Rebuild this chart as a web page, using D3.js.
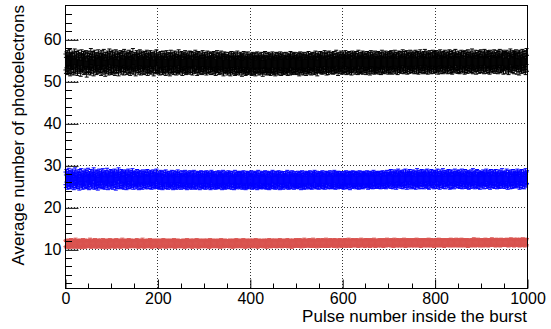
<!DOCTYPE html>
<html>
<head>
<meta charset="utf-8">
<script src="https://cdn.jsdelivr.net/npm/d3@7"></script>
<style>
  body { margin: 0; background: #fff; }
  svg { display: block; }
  text { font-family: "Liberation Sans", Arial, Helvetica, sans-serif; fill: #000; }
</style>
</head>
<body>
<svg id="chart" width="551" height="329"></svg>
<script>
// Average photoelectrons per pulse, three light levels, pulses 1..1000
const blackMeans = [
54.6,53.8,55.1,54.2,53.5,55.4,54.9,53.9,54.4,55.7,53.2,54.8,54.1,55.0,53.6,54.7,55.3,54.0,53.4,54.9,55.8,54.3,53.7,54.6,55.2,
54.1,53.3,54.8,55.5,54.4,53.8,55.0,54.2,53.1,54.7,55.6,54.5,53.9,54.3,55.2,53.5,54.6,54.9,53.7,55.4,54.0,52.9,54.8,55.1,54.2,
53.6,55.3,54.7,54.0,53.4,55.9,54.5,53.8,54.9,55.2,54.1,53.2,54.6,55.5,53.9,54.3,54.8,53.5,55.0,54.4,53.7,55.6,54.2,53.9,54.7,
55.1,54.0,53.3,54.6,55.4,54.8,53.6,54.2,55.7,53.9,54.5,53.1,55.0,54.3,53.8,54.9,55.3,54.1,53.4,54.7,55.8,54.4,53.7,55.2,54.0,
53.5,54.9,55.5,54.2,53.8,54.6,55.1,53.3,54.4,55.6,54.0,53.7,54.8,55.3,54.5,53.2,54.1,55.0,54.7,53.9,55.4,54.3,53.6,54.9,55.2,
54.2,53.4,55.7,54.6,53.9,54.1,55.3,54.8,53.5,54.4,55.0,53.8,54.7,55.5,54.0,53.3,54.9,55.2,54.3,53.7,54.6,55.9,54.1,53.6,54.5,
55.0,54.3,53.2,54.8,55.4,53.9,54.5,55.1,54.0,53.6,54.7,55.6,54.2,53.4,54.9,55.3,53.8,54.4,55.0,54.1,53.5,54.6,55.2,54.8,53.7,
54.3,55.5,54.0,53.3,54.7,55.1,54.5,53.8,54.2,55.4,53.6,54.9,54.1,53.9,55.0,54.4,53.2,54.8,55.3,54.6,53.7,54.0,55.6,54.3,53.9,
54.5,53.7,55.0,54.1,53.4,54.8,55.2,53.9,54.3,54.6,53.5,55.3,54.0,53.8,54.7,55.1,54.2,53.3,54.5,55.4,53.9,54.1,54.8,53.6,55.0,
54.4,53.2,54.7,55.5,54.0,53.7,54.3,55.0,54.6,53.5,54.2,55.3,53.9,54.8,54.1,53.4,55.1,54.5,53.8,54.0,55.6,54.3,53.6,54.9,54.2,
53.9,55.2,54.4,53.3,54.7,54.1,55.0,53.8,54.5,55.4,54.0,53.5,54.8,54.2,53.7,55.1,54.6,53.9,54.3,55.3,53.6,54.0,54.9,55.2,54.1,
53.4,54.6,55.0,54.2,53.8,54.5,55.5,53.9,54.1,54.7,53.3,54.9,55.2,54.0,53.6,54.4,55.1,54.3,53.7,54.8,54.2,53.5,55.4,54.6,53.9,
54.3,55.0,53.8,54.4,54.9,53.4,54.1,55.3,54.6,53.7,54.0,54.8,55.1,53.9,54.2,53.5,54.7,55.0,54.3,53.6,54.5,55.2,53.8,54.1,54.6,
53.3,54.9,54.2,55.4,53.9,54.0,54.7,53.5,55.0,54.4,53.8,54.1,55.3,54.6,53.6,54.3,54.8,53.2,54.5,55.1,54.0,53.7,54.9,54.2,53.9,
54.5,53.4,54.1,55.0,53.7,54.3,54.8,53.2,54.0,55.2,53.9,54.4,53.6,54.7,55.1,53.8,54.2,53.3,54.6,54.9,53.5,54.0,55.3,54.1,53.7,
54.3,54.8,53.4,54.0,55.0,53.9,54.5,53.1,54.2,54.7,53.6,55.2,54.1,53.8,54.4,53.3,54.9,54.0,53.5,54.6,55.1,53.7,54.2,53.9,54.5,
53.6,54.1,54.8,53.3,54.4,55.0,53.8,54.2,53.5,54.7,54.0,53.2,54.9,54.3,53.7,55.1,54.0,53.9,54.6,53.4,54.2,54.8,53.6,54.1,55.0,
53.8,54.4,53.1,54.0,54.9,53.6,54.3,55.2,53.9,54.1,53.4,54.7,54.2,53.7,55.0,54.0,53.5,54.5,54.8,53.3,54.2,53.9,54.6,55.1,53.8,
54.0,53.5,54.6,54.2,53.2,54.9,53.8,54.3,55.0,53.6,54.1,54.7,53.4,54.4,53.9,55.1,54.0,53.3,54.5,54.8,53.7,54.2,53.5,54.9,54.1,
53.8,54.3,55.0,53.6,54.0,54.6,53.3,54.8,54.2,53.9,54.5,53.4,55.2,54.1,53.7,54.4,54.9,53.5,54.0,54.7,53.8,55.0,54.2,53.6,54.3,
54.6,53.5,54.1,54.9,53.8,54.4,53.2,54.7,55.1,54.0,53.6,54.3,54.8,53.9,54.5,53.4,55.0,54.2,53.7,54.6,54.1,53.3,54.9,54.4,53.8,
54.2,55.2,53.6,54.0,54.7,53.9,54.5,53.4,54.8,55.0,54.1,53.7,54.3,54.9,53.5,54.6,55.3,54.0,53.8,54.4,53.2,54.7,55.1,54.2,53.9,
54.5,54.0,55.2,53.7,54.3,54.8,53.6,55.0,54.1,53.9,54.6,55.4,53.8,54.2,54.7,53.4,54.9,55.1,54.0,53.5,54.4,55.3,54.2,53.9,54.6,
55.0,53.8,54.3,54.9,53.6,54.5,55.2,54.1,53.7,54.7,54.0,55.5,53.9,54.4,54.8,53.3,54.2,55.0,54.6,53.8,54.1,55.3,54.5,53.6,54.9,
54.3,53.7,55.1,54.0,54.6,53.9,55.4,54.2,53.5,54.8,55.0,54.1,53.8,54.5,55.2,53.6,54.3,54.9,54.0,53.4,54.7,55.3,54.2,53.9,54.6,
55.0,54.4,53.6,54.8,55.2,53.9,54.1,54.7,53.5,55.5,54.3,53.8,54.6,55.0,54.0,53.7,54.9,54.2,55.3,53.6,54.4,54.8,53.9,55.1,54.5,
54.0,53.5,54.7,55.2,54.3,53.8,54.6,55.0,54.1,53.4,54.9,55.4,54.2,53.7,54.5,55.1,53.9,54.3,54.8,53.6,55.3,54.0,54.6,53.8,55.0,
54.4,53.9,55.2,54.1,53.6,54.7,55.0,54.3,53.5,54.9,55.5,54.0,53.8,54.6,55.1,54.2,53.7,54.8,55.3,54.5,53.9,54.1,55.0,54.4,53.6,
54.7,55.2,54.0,53.8,54.9,55.4,54.3,53.6,54.6,55.1,54.8,53.9,54.2,55.5,54.5,53.7,54.9,55.0,54.1,53.5,54.7,55.3,54.4,54.0,55.2,
54.3,53.8,55.0,54.6,54.1,55.6,54.4,53.7,54.8,55.2,54.0,53.9,54.5,55.4,54.2,53.6,54.9,55.1,54.7,53.8,54.3,55.5,54.6,54.0,55.0,
54.5,53.9,55.3,54.8,54.2,53.7,55.0,54.6,55.5,54.1,53.8,54.9,55.2,54.4,53.6,55.1,54.7,54.0,55.6,54.3,53.9,54.8,55.0,54.5,53.7,
55.2,54.4,54.0,55.7,54.6,53.8,54.9,55.3,54.2,53.6,54.7,55.1,54.5,53.9,55.4,54.8,54.1,53.7,55.0,54.6,55.5,54.3,53.8,54.9,55.2,
54.0,54.7,55.4,53.9,54.5,55.0,54.2,53.6,55.3,54.8,54.1,55.6,54.4,53.8,54.9,55.1,54.3,53.7,55.2,54.6,54.0,55.5,54.8,53.9,54.4,
55.0,54.3,53.7,55.3,54.9,54.1,55.6,54.5,53.8,54.7,55.2,54.0,53.6,55.4,54.8,54.2,55.0,54.6,53.9,55.7,54.4,54.1,55.1,54.7,53.8,
54.5,55.3,54.0,53.7,55.0,54.8,54.2,55.5,54.6,53.9,54.3,55.2,54.9,54.1,53.6,55.4,54.7,54.0,55.1,54.5,53.8,55.6,54.4,54.9,55.0,
54.2,53.9,55.3,54.6,54.0,55.8,54.8,53.7,54.4,55.1,54.7,54.1,55.5,54.3,53.6,55.0,54.9,54.2,55.4,54.5,53.8,54.8,55.2,54.0,55.6,
54.6,53.9,55.0,54.4,55.3,54.1,53.7,55.7,54.8,54.2,55.1,54.5,53.8,55.4,54.9,54.0,55.2,54.6,53.6,55.5,54.3,54.7,55.0,54.1,53.9,
55.3,54.8,54.2,55.6,54.4,53.8,55.0,54.9,54.1,55.4,54.6,53.7,55.2,54.3,54.8,55.7,54.0,53.9,55.1,54.5,54.2,55.5,54.7,53.6,55.0,
54.4,55.2,54.9,53.8,55.5,54.6,54.1,55.0,54.7,53.5,55.3,54.8,54.2,55.8,54.4,53.9,55.1,54.6,54.0,55.4,54.9,53.7,55.2,54.5,54.8,
55.6,54.3,53.6,55.0,54.7,55.3,54.1,53.4,55.5,54.9,54.2,55.1,53.8,54.6,55.7,54.4,53.9,55.2,54.8,54.0,55.4,53.5,54.7,55.9,54.3
];

const blueMeans = [
26.9,26.2,27.5,26.6,25.8,27.1,26.4,27.8,26.0,26.7,27.3,25.9,26.5,27.0,26.3,27.6,26.1,26.8,25.7,27.2,26.6,27.9,26.2,26.9,25.9,
27.4,26.5,26.0,27.1,26.8,25.6,27.5,26.3,26.9,27.7,26.1,26.6,25.8,27.2,26.4,27.0,26.7,25.9,27.6,26.2,26.8,27.3,26.0,26.5,27.8,
26.3,25.7,27.0,26.9,26.4,27.5,25.9,26.6,27.2,26.1,26.8,27.9,26.3,25.8,27.1,26.5,27.4,26.0,26.7,27.3,25.6,26.9,26.2,27.6,26.4,
27.0,26.6,25.9,27.4,26.2,26.8,27.7,26.0,26.5,27.1,25.8,26.9,27.3,26.3,26.7,27.8,26.1,25.7,27.2,26.6,27.0,26.4,25.9,27.5,26.8,
26.1,27.3,26.7,25.8,27.0,26.4,27.6,26.2,26.9,25.6,27.4,26.5,26.0,27.2,26.8,27.9,26.3,25.9,26.6,27.1,26.2,27.5,26.7,26.0,27.3,
26.5,25.8,27.0,26.8,26.1,27.4,26.6,25.7,27.2,26.3,26.9,27.6,26.0,26.4,27.1,25.9,26.7,27.3,26.2,26.8,27.7,26.5,25.8,26.9,27.0,
26.3,27.2,26.7,25.9,26.5,27.5,26.1,26.8,27.0,25.7,26.6,27.3,26.4,26.0,27.1,26.9,25.8,26.6,27.4,26.2,26.7,27.0,26.3,25.9,27.2,
26.8,26.1,27.5,26.4,25.9,26.9,27.1,26.5,26.0,27.3,26.7,25.8,26.6,27.0,26.2,27.4,26.8,25.9,26.5,27.2,26.1,26.7,27.6,26.3,26.0,
26.6,27.1,26.2,25.8,26.9,26.4,27.3,26.0,26.5,27.0,25.7,26.7,26.3,27.2,26.1,25.9,26.8,27.4,26.4,26.0,26.6,27.1,25.8,26.5,26.9,
26.2,27.0,26.4,25.9,26.7,27.3,26.1,26.5,25.7,26.9,27.2,26.3,26.0,26.6,27.0,25.8,26.4,26.8,27.4,26.2,25.9,26.7,27.1,26.3,26.5,
25.8,26.6,27.2,26.1,26.4,27.0,25.9,26.7,26.3,27.3,26.0,26.5,26.9,25.7,26.4,27.1,26.2,26.6,25.9,26.8,27.2,26.1,26.4,25.8,27.0,
26.5,26.2,26.9,27.3,26.0,26.6,25.8,26.4,27.1,26.7,26.1,25.9,26.8,27.0,26.3,26.5,25.7,26.9,27.2,26.2,26.6,26.0,27.1,26.4,25.9,
26.7,27.0,26.3,25.8,26.5,27.2,26.1,26.8,26.4,25.9,27.1,26.6,26.2,26.9,25.7,26.5,27.3,26.0,26.4,26.8,25.9,27.0,26.3,26.6,26.1,
25.8,26.9,26.4,27.1,26.2,26.0,26.7,27.2,25.9,26.5,26.8,26.3,27.0,26.1,25.7,26.6,27.3,26.4,26.0,26.9,26.2,25.8,27.1,26.5,26.7,
26.3,26.0,26.8,27.2,26.4,25.9,26.6,27.0,26.1,26.5,25.8,26.9,27.1,26.2,26.4,25.7,26.7,27.3,26.0,26.6,26.3,25.9,26.8,27.0,26.2,
26.5,27.1,25.9,26.4,26.8,26.1,27.0,26.3,25.8,26.7,27.2,26.0,26.5,26.9,26.2,25.7,26.6,27.1,26.4,26.0,26.8,25.9,27.0,26.3,26.6,
26.1,26.7,27.2,26.3,25.8,26.5,26.9,26.0,27.1,26.4,25.9,26.8,26.2,27.0,26.6,25.7,26.4,27.3,26.1,26.7,26.0,26.5,27.1,25.9,26.3,
26.8,26.2,25.9,27.0,26.5,26.1,26.7,27.2,26.0,26.4,25.8,26.9,27.1,26.3,26.6,26.0,25.7,26.8,27.0,26.2,26.5,25.9,26.7,27.3,26.4,
26.0,26.6,27.1,26.2,25.8,26.9,26.4,27.0,26.1,25.9,26.7,27.2,26.3,26.5,25.7,26.8,27.1,26.0,26.4,26.9,26.2,25.8,27.0,26.6,26.3,
26.5,27.0,26.1,25.9,26.7,27.3,26.2,26.4,25.8,26.8,27.1,26.0,26.6,26.3,25.9,26.9,27.2,26.4,26.1,26.7,25.8,26.5,27.0,26.2,26.4,
26.7,26.0,26.5,27.1,26.3,25.9,26.8,26.2,27.0,26.4,25.7,26.6,27.2,26.1,26.5,26.9,26.0,25.8,26.7,27.1,26.3,26.5,25.9,26.8,27.0,
26.2,26.6,25.9,26.9,27.2,26.4,26.0,26.7,25.8,26.5,27.0,26.3,26.1,26.8,27.3,26.2,25.9,26.6,26.4,27.1,26.0,26.5,26.9,25.8,26.7,
26.4,27.0,26.1,26.6,25.9,26.8,27.2,26.3,26.0,26.7,26.5,25.8,27.1,26.4,26.2,26.9,27.0,26.1,25.9,26.6,26.8,26.3,27.2,26.0,26.5,
25.9,26.7,27.1,26.2,26.5,26.0,26.9,27.3,26.4,25.8,26.6,27.0,26.1,26.8,26.3,25.9,27.1,26.5,26.2,26.7,27.0,26.0,26.4,26.9,26.1,
26.6,26.3,25.8,27.0,26.7,26.1,26.5,27.2,26.0,26.8,26.4,25.9,26.9,27.1,26.2,26.6,25.7,26.8,27.0,26.3,26.5,26.0,27.2,26.4,26.7,
26.2,27.0,26.5,25.9,26.8,26.3,27.1,26.0,26.6,26.9,25.8,26.4,27.2,26.1,26.7,26.5,26.0,27.0,26.3,25.9,26.8,26.6,27.1,26.2,26.4,
26.9,26.1,26.6,27.2,26.4,25.8,26.7,27.0,26.2,26.5,26.9,26.0,27.1,26.3,26.6,25.9,26.8,27.3,26.1,26.5,26.7,26.0,26.9,27.0,26.4,
26.2,26.8,27.1,26.0,26.5,26.9,26.3,25.9,27.0,26.6,26.4,27.2,26.1,26.7,26.0,26.8,27.1,26.5,26.2,25.9,26.9,27.3,26.4,26.6,26.1,
26.8,27.2,26.3,26.6,27.5,26.0,26.9,27.1,26.4,25.9,26.7,27.4,26.2,26.8,27.0,26.5,25.8,27.3,26.6,26.1,27.6,26.9,26.3,26.7,27.0,
26.4,27.3,26.0,26.8,27.1,26.5,25.9,27.4,26.7,26.2,26.9,27.6,26.3,26.6,25.8,27.2,26.8,26.1,27.0,26.5,27.5,26.3,26.9,25.9,27.1,
26.6,26.2,27.4,26.9,26.0,26.7,27.2,26.4,25.8,27.0,26.5,27.7,26.3,26.8,26.1,27.3,26.6,25.9,27.1,26.7,26.4,27.5,26.0,26.8,27.2,
26.5,25.9,27.0,26.7,27.4,26.2,26.9,26.4,27.6,26.0,26.6,27.2,25.8,26.8,27.1,26.3,26.7,27.5,26.1,26.9,26.5,27.3,26.2,25.9,27.0,
26.8,27.3,26.4,26.0,26.9,27.6,26.5,26.1,27.0,26.7,25.8,27.4,26.6,26.2,27.1,26.9,26.3,27.7,26.0,26.5,27.2,26.8,25.9,26.6,27.3,
26.4,27.0,26.7,26.1,27.5,26.3,26.9,25.8,27.2,26.6,26.0,27.4,26.8,26.2,26.7,27.1,25.9,26.5,27.6,26.4,26.9,27.0,26.1,26.7,27.3,
26.2,26.8,27.4,26.5,26.0,27.1,26.7,26.3,27.6,25.9,26.6,27.2,26.9,26.1,26.5,27.5,26.4,26.0,27.0,26.8,26.2,27.3,26.6,25.8,26.9,
27.1,26.5,26.0,27.4,26.8,26.3,26.7,27.7,26.1,26.6,27.0,25.9,26.9,27.3,26.4,26.2,27.5,26.7,26.0,26.8,27.2,26.5,25.8,27.1,26.6,
26.3,27.0,26.8,26.1,27.4,26.6,25.9,26.9,27.2,26.4,26.7,27.6,26.0,26.5,27.1,26.8,26.2,27.3,26.6,25.8,26.9,27.5,26.4,26.1,27.0,
26.7,26.2,27.3,26.9,26.0,26.6,27.5,26.4,26.8,25.9,27.1,26.5,26.2,27.4,26.7,26.0,26.9,27.2,26.3,26.6,27.7,26.1,26.8,27.0,26.4,
26.0,26.9,27.2,26.5,26.7,27.6,26.2,25.8,26.8,27.3,26.4,26.6,27.1,25.9,26.9,27.4,26.3,26.7,26.0,27.5,26.6,26.2,27.0,26.8,26.4,
27.2,26.5,26.1,27.6,26.8,26.3,27.0,26.6,25.8,27.3,26.9,26.2,27.5,26.7,26.0,26.8,27.4,26.4,25.9,27.1,26.6,27.7,26.3,26.9,27.2
];

const redMeans = [
11.4,11.1,11.6,11.3,11.0,11.5,11.7,11.2,11.4,10.9,11.6,11.3,11.8,11.1,11.5,11.2,11.4,11.7,11.0,11.3,11.6,11.2,11.9,11.4,11.1,
11.5,11.3,11.0,11.6,11.4,11.2,11.7,11.1,11.5,11.3,10.9,11.6,11.4,11.8,11.2,11.3,11.5,11.0,11.7,11.4,11.1,11.6,11.3,11.2,11.5,
11.2,11.6,11.3,11.9,11.1,11.4,11.0,11.5,11.7,11.3,11.2,11.6,11.4,11.1,11.8,11.3,11.5,11.0,11.4,11.6,11.2,11.7,11.3,11.5,11.1,
11.4,11.7,11.2,11.0,11.5,11.3,11.8,11.4,11.1,11.6,11.3,10.9,11.5,11.7,11.2,11.4,11.6,11.1,11.3,11.5,11.0,11.8,11.4,11.2,11.6,
11.3,11.5,11.1,11.7,11.4,11.2,11.6,11.0,11.5,11.3,11.8,11.4,11.1,11.6,11.3,11.5,11.2,11.7,11.4,11.0,11.6,11.3,11.5,11.9,11.2,
11.4,11.1,11.6,11.3,11.5,11.7,11.2,11.4,11.0,11.6,11.3,11.5,11.8,11.1,11.4,11.2,11.6,11.3,11.7,11.5,11.1,11.4,11.6,11.2,11.3,
11.6,11.3,11.1,11.5,11.8,11.2,11.4,11.6,11.0,11.3,11.5,11.7,11.2,11.4,11.1,11.6,11.3,11.9,11.4,11.2,11.5,11.0,11.6,11.4,11.3,
11.2,11.5,11.7,11.3,11.4,11.1,11.6,11.4,11.8,11.2,11.5,11.3,11.0,11.6,11.4,11.7,11.2,11.5,11.3,11.1,11.6,11.4,11.2,11.7,11.5,
11.3,11.6,11.2,11.4,11.0,11.5,11.7,11.3,11.4,11.1,11.6,11.3,11.8,11.5,11.2,11.4,11.6,11.0,11.3,11.5,11.7,11.2,11.4,11.6,11.1,
11.5,11.2,11.4,11.7,11.3,11.1,11.6,11.4,11.2,11.5,11.8,11.3,11.0,11.4,11.6,11.2,11.5,11.3,11.7,11.1,11.4,11.6,11.3,11.5,11.2,
11.4,11.6,11.1,11.3,11.5,11.7,11.2,11.4,11.0,11.6,11.3,11.5,11.2,11.8,11.4,11.1,11.5,11.3,11.6,11.4,11.2,11.7,11.3,11.5,11.0,
11.3,11.5,11.7,11.2,11.4,11.6,11.1,11.3,11.5,11.8,11.2,11.4,11.6,11.0,11.3,11.5,11.7,11.4,11.2,11.6,11.3,11.1,11.5,11.4,11.7,
11.2,11.4,11.6,11.3,11.1,11.5,11.7,11.2,11.4,11.6,11.3,11.0,11.5,11.8,11.4,11.2,11.6,11.3,11.5,11.1,11.4,11.7,11.3,11.5,11.2,
11.6,11.3,11.5,11.1,11.4,11.7,11.2,11.5,11.3,11.6,11.0,11.4,11.8,11.3,11.5,11.2,11.6,11.4,11.1,11.5,11.7,11.3,11.4,11.2,11.6,
11.4,11.2,11.6,11.5,11.3,11.1,11.7,11.4,11.2,11.5,11.6,11.3,11.0,11.4,11.7,11.5,11.2,11.6,11.3,11.4,11.8,11.1,11.5,11.3,11.6,
11.3,11.5,11.2,11.7,11.4,11.6,11.1,11.3,11.5,11.4,11.8,11.2,11.6,11.3,11.0,11.5,11.4,11.7,11.2,11.6,11.3,11.5,11.1,11.4,11.7,
11.5,11.2,11.4,11.6,11.3,11.7,11.1,11.5,11.4,11.2,11.6,11.3,11.8,11.4,11.2,11.5,11.0,11.6,11.4,11.3,11.7,11.5,11.2,11.6,11.4,
11.3,11.6,11.4,11.1,11.5,11.7,11.3,11.2,11.6,11.4,11.5,11.0,11.7,11.3,11.5,11.4,11.8,11.2,11.6,11.3,11.1,11.5,11.4,11.7,11.2,
11.5,11.3,11.7,11.4,11.2,11.6,11.5,11.1,11.4,11.7,11.3,11.6,11.2,11.5,11.8,11.4,11.3,11.6,11.1,11.5,11.4,11.7,11.2,11.6,11.3,
11.4,11.6,11.2,11.5,11.3,11.8,11.4,11.1,11.6,11.5,11.3,11.7,11.2,11.4,11.6,11.0,11.5,11.3,11.7,11.4,11.6,11.2,11.5,11.3,11.8,
11.5,11.3,11.6,11.4,11.7,11.2,11.5,11.8,11.3,11.6,11.4,11.1,11.5,11.7,11.3,11.6,11.4,11.9,11.2,11.5,11.6,11.3,11.7,11.4,11.5,
11.3,11.6,11.4,11.8,11.5,11.2,11.7,11.4,11.6,11.3,11.5,11.9,11.4,11.2,11.6,11.5,11.3,11.7,11.4,11.6,11.1,11.5,11.8,11.3,11.6,
11.4,11.7,11.5,11.2,11.6,11.4,11.8,11.3,11.5,11.7,11.4,11.6,11.2,11.5,11.9,11.4,11.6,11.3,11.7,11.5,11.2,11.6,11.4,11.8,11.5,
11.6,11.3,11.5,11.7,11.4,11.6,11.2,11.8,11.5,11.4,11.7,11.3,11.6,11.5,11.1,11.7,11.4,11.6,11.3,11.8,11.5,11.4,11.6,11.2,11.7,
11.5,11.4,11.7,11.3,11.6,11.8,11.4,11.5,11.2,11.6,11.7,11.4,11.5,11.9,11.3,11.6,11.5,11.2,11.7,11.4,11.6,11.3,11.8,11.5,11.4,
11.7,11.4,11.5,11.6,11.3,11.8,11.5,11.4,11.7,11.2,11.6,11.5,11.3,11.7,11.4,11.9,11.5,11.6,11.3,11.5,11.7,11.4,11.6,11.2,11.8,
11.4,11.6,11.5,11.8,11.3,11.6,11.4,11.7,11.5,11.2,11.6,11.8,11.4,11.5,11.7,11.3,11.6,11.5,11.9,11.4,11.6,11.2,11.5,11.7,11.4,
11.6,11.5,11.3,11.7,11.4,11.6,11.8,11.5,11.3,11.6,11.4,11.7,11.5,11.2,11.8,11.6,11.4,11.5,11.7,11.3,11.6,11.9,11.4,11.5,11.7,
11.5,11.7,11.4,11.6,11.3,11.8,11.5,11.6,11.4,11.7,11.2,11.5,11.9,11.6,11.4,11.7,11.5,11.3,11.6,11.8,11.4,11.5,11.7,11.3,11.6,
11.4,11.6,11.8,11.5,11.3,11.7,11.6,11.4,11.9,11.5,11.6,11.2,11.7,11.5,11.4,11.8,11.6,11.3,11.5,11.7,11.4,11.6,11.8,11.5,11.3,
11.6,11.4,11.7,11.5,11.8,11.3,11.6,11.5,11.7,11.4,11.9,11.6,11.3,11.5,11.7,11.6,11.4,11.8,11.5,11.2,11.6,11.7,11.5,11.4,11.8,
11.5,11.7,11.3,11.6,11.4,11.8,11.5,11.7,11.6,11.3,11.5,11.9,11.4,11.6,11.7,11.5,11.3,11.8,11.6,11.4,11.5,11.7,11.6,11.2,11.7,
11.6,11.4,11.8,11.5,11.7,11.3,11.6,11.5,11.9,11.4,11.7,11.6,11.5,11.3,11.8,11.6,11.4,11.7,11.5,11.6,11.2,11.8,11.5,11.7,11.4,
11.7,11.5,11.6,11.4,11.8,11.6,11.3,11.7,11.5,11.9,11.4,11.6,11.7,11.5,11.3,11.8,11.6,11.5,11.4,11.7,11.6,11.9,11.5,11.3,11.6,
11.5,11.8,11.4,11.6,11.7,11.5,11.3,11.9,11.6,11.4,11.7,11.5,11.8,11.6,11.3,11.5,11.7,11.4,11.6,11.8,11.5,11.2,11.7,11.6,11.4,
11.6,11.5,11.7,11.3,11.8,11.6,11.5,11.4,11.7,12.0,11.5,11.6,11.3,11.8,11.5,11.7,11.6,11.4,11.9,11.5,11.6,11.7,11.3,11.6,11.8,
11.4,11.7,11.6,11.8,11.5,11.3,11.7,11.6,11.5,11.9,11.4,11.6,11.8,11.5,11.7,11.3,11.6,11.5,11.8,11.4,11.7,11.6,11.5,12.0,11.6,
11.7,11.5,11.4,11.8,11.6,11.7,11.3,11.6,11.9,11.5,11.7,11.4,11.6,11.8,11.5,11.6,11.3,11.7,11.9,11.5,11.6,11.4,11.8,11.6,11.5,
11.6,11.8,11.5,11.7,11.4,11.9,11.6,11.5,11.7,11.3,11.8,11.6,11.5,11.7,12.0,11.6,11.4,11.8,11.5,11.7,11.6,11.3,11.9,11.5,11.7,
11.5,11.7,11.9,11.6,11.4,11.8,11.6,11.7,11.3,11.9,11.5,11.6,11.8,11.4,11.7,12.0,11.6,11.5,11.8,11.3,11.7,11.6,11.9,11.5,11.8
];

// Statistical uncertainty on each average, one value per light level
const seriesErrors = [1.9, 1.5, 0.75];
const seriesNames = ["high", "medium", "low"];

const xTickValues = [0, 200, 400, 600, 800, 1000];
const yTickValues = [10, 20, 30, 40, 50, 60];
const xAxisTitle = "Pulse number inside the burst";
const yAxisTitle = "Average number of photoelectrons";

// ---- drawing ----
const colors = ["#000000", "#0000ff", "#d9534f"];
const frame = { left: 65, right: 527, top: 5, bottom: 288 };

const svg = d3.select("#chart");

const x = d3.scaleLinear().domain([0, 1000]).range([frame.left, frame.right]);
const y = d3.scaleLinear().domain([0.79, 68.17]).range([frame.bottom, frame.top]);

const series = [blackMeans, blueMeans, redMeans].map((vals, k) => ({
  name: seriesNames[k],
  color: colors[k],
  err: seriesErrors[k],
  points: vals.map((v, i) => ({ pulse: i + 1, v }))
}));

// grid (dotted, under the data)
const grid = svg.append("g").attr("stroke", "#333").attr("stroke-width", 1)
  .attr("stroke-dasharray", "1,2").attr("shape-rendering", "crispEdges");
grid.selectAll("line.gx").data(xTickValues.filter(t => t > 0 && t < 1000)).join("line")
  .attr("x1", d => Math.round(x(d)) + 0.5).attr("x2", d => Math.round(x(d)) + 0.5)
  .attr("y1", frame.top).attr("y2", frame.bottom);
grid.selectAll("line.gy").data(yTickValues).join("line")
  .attr("x1", frame.left).attr("x2", frame.right)
  .attr("y1", d => Math.round(y(d)) + 0.5).attr("y2", d => Math.round(y(d)) + 0.5);

// error bars with end caps
const capHalf = 2;
series.forEach(s => {
  const g = svg.append("g").attr("stroke", s.color).attr("stroke-width", 1).attr("fill", "none");
  g.selectAll("path").data(s.points).join("path")
    .attr("d", d => {
      const px = x(d.pulse);
      const y1 = y(d.v + s.err), y2 = y(d.v - s.err);
      return `M${px},${y1}V${y2}M${px - capHalf},${y1}H${px + capHalf}M${px - capHalf},${y2}H${px + capHalf}`;
    });
});

// frame
svg.append("rect")
  .attr("x", frame.left + 0.5).attr("y", frame.top + 0.5)
  .attr("width", frame.right - frame.left).attr("height", frame.bottom - frame.top)
  .attr("fill", "none").attr("stroke", "#000").attr("stroke-width", 1);

// axes: ticks drawn inward, ROOT style
const xAxis = d3.axisBottom(x).tickValues(xTickValues).tickSizeInner(-9).tickSizeOuter(0)
  .tickPadding(4).tickFormat(d3.format("d"));
const gx = svg.append("g").attr("transform", `translate(0.5,${frame.bottom + 0.5})`).call(xAxis);
gx.select(".domain").remove();
gx.selectAll("text").attr("font-size", 16).attr("font-family", null);

const xMinor = d3.range(0, 1001, 50).filter(t => !xTickValues.includes(t));
svg.append("g").attr("stroke", "#000").selectAll("line").data(xMinor).join("line")
  .attr("x1", d => Math.round(x(d)) + 0.5).attr("x2", d => Math.round(x(d)) + 0.5)
  .attr("y1", frame.bottom).attr("y2", frame.bottom - 4.5);

const yAxis = d3.axisLeft(y).tickValues(yTickValues).tickSizeInner(-13).tickSizeOuter(0)
  .tickPadding(4).tickFormat(d3.format("d"));
const gy = svg.append("g").attr("transform", `translate(${frame.left + 0.5},0.5)`).call(yAxis);
gy.select(".domain").remove();
gy.selectAll("text").attr("font-size", 16).attr("font-family", null);

const yMinor = d3.range(2, 68, 2).filter(t => !yTickValues.includes(t));
svg.append("g").attr("stroke", "#000").selectAll("line").data(yMinor).join("line")
  .attr("x1", frame.left).attr("x2", frame.left + 7)
  .attr("y1", d => Math.round(y(d)) + 0.5).attr("y2", d => Math.round(y(d)) + 0.5);

// axis titles, right/top aligned
svg.append("text").attr("x", frame.right).attr("y", 322)
  .attr("text-anchor", "end").attr("font-size", 17).text(xAxisTitle);
svg.append("text").attr("transform", `translate(24,${frame.top}) rotate(-90)`)
  .attr("text-anchor", "end").attr("font-size", 17).text(yAxisTitle);
</script>
</body>
</html>
